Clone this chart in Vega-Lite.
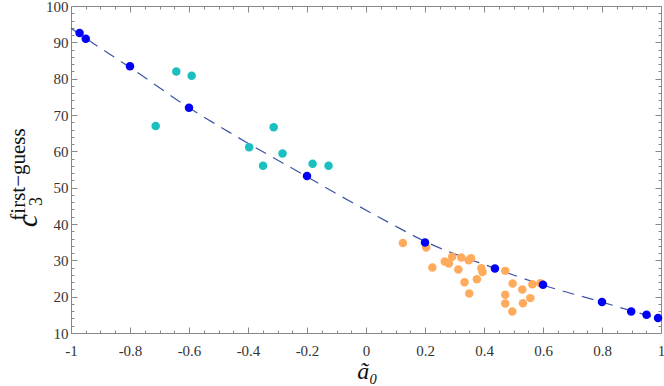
{
  "$schema": "https://vega.github.io/schema/vega-lite/v6.json",
  "width": 590,
  "height": 327,
  "autosize": {"type": "none"},
  "padding": {"left": 71, "top": 6, "right": 3, "bottom": 53},
  "background": "white",
  "config": {
    "font": "Liberation Serif",
    "view": {"stroke": null},
    "axis": {
      "grid": false,
      "domainColor": "#888888",
      "domainWidth": 1,
      "tickColor": "#888888",
      "tickWidth": 1,
      "labelFont": "Liberation Serif",
      "labelFontSize": 15,
      "labelColor": "#333333",
      "titleFont": "Liberation Serif",
      "titleFontWeight": "normal",
      "titleColor": "#111111"
    }
  },
  "layer": [
    {
      "data": {
        "values": [
          {"a0": -1.0, "c3": 93.9},
          {"a0": -0.95, "c3": 91.1},
          {"a0": -0.8, "c3": 83.1},
          {"a0": -0.6, "c3": 72.0},
          {"a0": -0.45, "c3": 64.6},
          {"a0": -0.2, "c3": 53.0},
          {"a0": -0.11, "c3": 48.8},
          {"a0": 0.08, "c3": 40.3},
          {"a0": 0.2, "c3": 35.2},
          {"a0": 0.437, "c3": 27.8},
          {"a0": 0.6, "c3": 23.2},
          {"a0": 0.8, "c3": 18.5},
          {"a0": 0.9, "c3": 16.1},
          {"a0": 1.0, "c3": 13.8}
        ]
      },
      "mark": {"type": "line", "stroke": "#3f55a5", "strokeWidth": 1.2, "strokeDash": [12, 8], "interpolate": "monotone"},
      "encoding": {
        "x": {
          "field": "a0", "type": "quantitative",
          "scale": {"domain": [-1, 1], "nice": false, "zero": false},
          "axis": {
            "orient": "bottom",
            "values": [-1, -0.95, -0.9, -0.85, -0.8, -0.75, -0.7, -0.65, -0.6, -0.55, -0.5, -0.45, -0.4, -0.35, -0.3, -0.25, -0.2, -0.15, -0.1, -0.05, 0, 0.05, 0.1, 0.15, 0.2, 0.25, 0.3, 0.35, 0.4, 0.45, 0.5, 0.55, 0.6, 0.65, 0.7, 0.75, 0.8, 0.85, 0.9, 0.95, 1],
            "labelExpr": "abs(datum.value*5 - round(datum.value*5)) < 0.001 ? replace(format(datum.value, '~g'), '−', '-') : ''",
            "tickSize": {"condition": {"test": "abs(datum.value*5 - round(datum.value*5)) < 0.001", "value": -6}, "value": -3},
            "labelPadding": 16,
            "labelFont": "Liberation Serif",
            "labelFlush": false,
            "labelOverlap": false,
            "title": "ã₀",
            "titleFontSize": 24,
            "titleFontStyle": "italic",
            "titleX": 296,
            "titleY": 38,
            "titleBaseline": "middle",
            "titleAlign": "center"
          }
        },
        "y": {
          "field": "c3", "type": "quantitative",
          "scale": {"domain": [10, 100], "nice": false, "zero": false},
          "axis": {
            "orient": "left",
            "values": [10, 12, 14, 16, 18, 20, 22, 24, 26, 28, 30, 32, 34, 36, 38, 40, 42, 44, 46, 48, 50, 52, 54, 56, 58, 60, 62, 64, 66, 68, 70, 72, 74, 76, 78, 80, 82, 84, 86, 88, 90, 92, 94, 96, 98, 100],
            "labelExpr": "datum.value % 10 == 0 ? format(datum.value, 'd') : ''",
            "tickSize": {"condition": {"test": "datum.value % 10 == 0", "value": -6}, "value": -3},
            "labelPadding": 9,
            "labelFont": "Liberation Serif",
            "labelFlush": false,
            "labelOverlap": false,
            "title": "c",
            "titleFontSize": 30,
            "titleFontStyle": "italic",
            "titleAngle": 270,
            "titleX": -44,
            "titleY": 214,
            "titleAlign": "center",
            "titleBaseline": "middle"
          }
        }
      }
    },
    {
      "data": {
        "values": [
          {"a0": 0.125, "c3": 34.8, "group": "orange"},
          {"a0": 0.204, "c3": 33.5, "group": "orange"},
          {"a0": 0.225, "c3": 28.0, "group": "orange"},
          {"a0": 0.267, "c3": 29.7, "group": "orange"},
          {"a0": 0.281, "c3": 29.1, "group": "orange"},
          {"a0": 0.292, "c3": 31.0, "group": "orange"},
          {"a0": 0.313, "c3": 27.5, "group": "orange"},
          {"a0": 0.323, "c3": 30.8, "group": "orange"},
          {"a0": 0.348, "c3": 30.0, "group": "orange"},
          {"a0": 0.356, "c3": 30.6, "group": "orange"},
          {"a0": 0.334, "c3": 24.0, "group": "orange"},
          {"a0": 0.35, "c3": 20.9, "group": "orange"},
          {"a0": 0.376, "c3": 24.8, "group": "orange"},
          {"a0": 0.391, "c3": 27.8, "group": "orange"},
          {"a0": 0.395, "c3": 26.8, "group": "orange"},
          {"a0": 0.472, "c3": 27.1, "group": "orange"},
          {"a0": 0.497, "c3": 23.6, "group": "orange"},
          {"a0": 0.472, "c3": 20.5, "group": "orange"},
          {"a0": 0.472, "c3": 18.1, "group": "orange"},
          {"a0": 0.496, "c3": 15.9, "group": "orange"},
          {"a0": 0.53, "c3": 22.0, "group": "orange"},
          {"a0": 0.532, "c3": 18.2, "group": "orange"},
          {"a0": 0.557, "c3": 19.6, "group": "orange"},
          {"a0": 0.564, "c3": 23.4, "group": "orange"},
          {"a0": 0.591, "c3": 23.7, "group": "orange"},
          {"a0": -0.643, "c3": 82.0, "group": "cyan"},
          {"a0": -0.591, "c3": 80.8, "group": "cyan"},
          {"a0": -0.713, "c3": 67.0, "group": "cyan"},
          {"a0": -0.313, "c3": 66.6, "group": "cyan"},
          {"a0": -0.396, "c3": 61.1, "group": "cyan"},
          {"a0": -0.283, "c3": 59.4, "group": "cyan"},
          {"a0": -0.349, "c3": 56.0, "group": "cyan"},
          {"a0": -0.181, "c3": 56.6, "group": "cyan"},
          {"a0": -0.127, "c3": 56.0, "group": "cyan"},
          {"a0": -0.971, "c3": 92.6, "group": "blue"},
          {"a0": -0.95, "c3": 91.0, "group": "blue"},
          {"a0": -0.8, "c3": 83.4, "group": "blue"},
          {"a0": -0.6, "c3": 72.0, "group": "blue"},
          {"a0": -0.2, "c3": 53.2, "group": "blue"},
          {"a0": 0.2, "c3": 34.9, "group": "blue"},
          {"a0": 0.437, "c3": 27.75, "group": "blue"},
          {"a0": 0.6, "c3": 23.25, "group": "blue"},
          {"a0": 0.8, "c3": 18.55, "group": "blue"},
          {"a0": 0.899, "c3": 15.9, "group": "blue"},
          {"a0": 0.951, "c3": 15.0, "group": "blue"},
          {"a0": 0.99, "c3": 14.1, "group": "blue"}
        ]
      },
      "mark": {"type": "circle", "size": 72, "opacity": 1},
      "encoding": {
        "x": {
          "field": "a0", "type": "quantitative",
          "axis": {
            "orient": "top",
            "values": [-1, -0.95, -0.9, -0.85, -0.8, -0.75, -0.7, -0.65, -0.6, -0.55, -0.5, -0.45, -0.4, -0.35, -0.3, -0.25, -0.2, -0.15, -0.1, -0.05, 0, 0.05, 0.1, 0.15, 0.2, 0.25, 0.3, 0.35, 0.4, 0.45, 0.5, 0.55, 0.6, 0.65, 0.7, 0.75, 0.8, 0.85, 0.9, 0.95, 1],
            "labels": false,
            "tickSize": {"condition": {"test": "abs(datum.value*5 - round(datum.value*5)) < 0.001", "value": -6}, "value": -3},
            "title": "first−guess",
            "titleFontSize": 21,
            "titleAngle": 270,
            "titleX": -53,
            "titleY": 168,
            "titleAlign": "center",
            "titleBaseline": "middle"
          }
        },
        "y": {
          "field": "c3", "type": "quantitative",
          "axis": {
            "orient": "right",
            "values": [10, 12, 14, 16, 18, 20, 22, 24, 26, 28, 30, 32, 34, 36, 38, 40, 42, 44, 46, 48, 50, 52, 54, 56, 58, 60, 62, 64, 66, 68, 70, 72, 74, 76, 78, 80, 82, 84, 86, 88, 90, 92, 94, 96, 98, 100],
            "labels": false,
            "tickSize": {"condition": {"test": "datum.value % 10 == 0", "value": -6}, "value": -3},
            "title": "3",
            "titleFontSize": 18,
            "titleFontStyle": "normal",
            "titleAngle": 270,
            "titleX": -625,
            "titleY": 195,
            "titleAlign": "center",
            "titleBaseline": "middle"
          }
        },
        "color": {
          "field": "group", "type": "nominal",
          "scale": {"domain": ["blue", "cyan", "orange"], "range": ["#0000f5", "#1bbfbf", "#ffab5e"]},
          "legend": null
        }
      }
    }
  ],
  "resolve": {"axis": {"x": "independent", "y": "independent"}}
}
